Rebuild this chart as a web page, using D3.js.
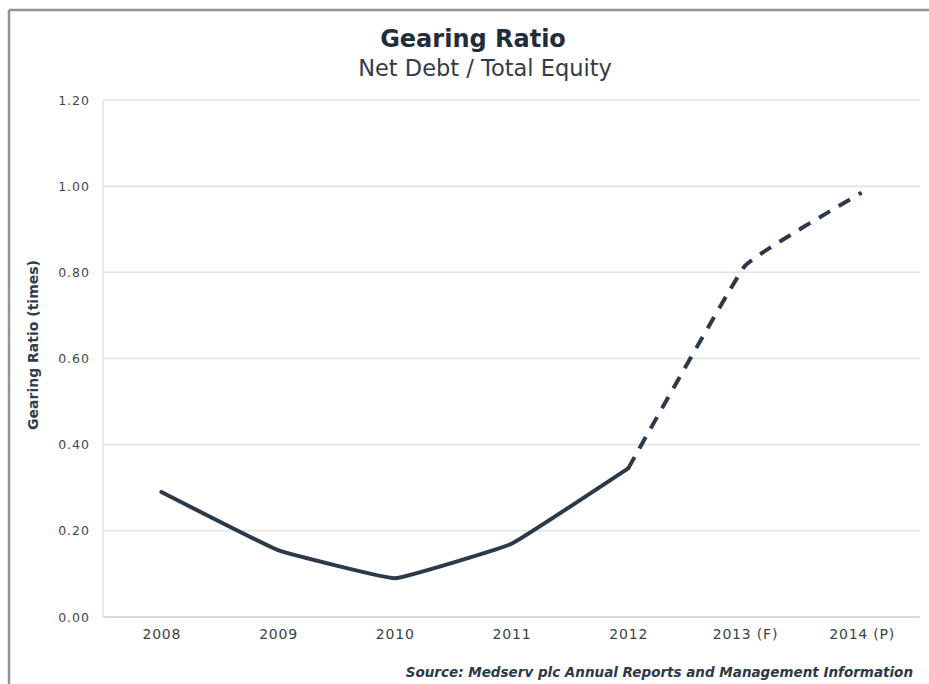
<!DOCTYPE html>
<html><head><meta charset="utf-8">
<script src="https://cdn.jsdelivr.net/npm/d3@7"></script>
<style>body{margin:0;background:#fff;}svg{display:block;}</style>
</head><body>
<svg id="c" width="929" height="684"></svg>
<script>
const categories = ["2008","2009","2010","2011","2012","2013 (F)","2014 (P)"];
const actualValues = [0.29,0.155,0.09,0.17,0.345,null,null];
const forecastValues = [null,null,null,null,0.345,0.815,0.985];
const yTicks = [0,0.2,0.4,0.6,0.8,1.0,1.2];
const title = "Gearing Ratio";
const subtitle = "Net Debt / Total Equity";
const yTitle = "Gearing Ratio (times)";
const source = "Source: Medserv plc Annual Reports and Management Information";

const svg = d3.select("#c");
const W=929,H=684;
const m={l:103,r:920,t:100,b:617};
const font="'DejaVu Sans', Verdana, sans-serif";
const dark="#2b3949";

// frame
svg.append("line").attr("x1",9).attr("x2",W).attr("y1",10).attr("y2",10).attr("stroke","#8d949c").attr("stroke-width",2.5);
svg.append("line").attr("x1",9).attr("x2",9).attr("y1",10).attr("y2",H).attr("stroke","#8d949c").attr("stroke-width",2.5);

const x=d3.scalePoint().domain(categories).range([m.l,m.r]).padding(0.5);
const y=d3.scaleLinear().domain([0,1.2]).range([m.b,m.t]);

// gridlines
svg.append("g").selectAll("line").data(yTicks).join("line")
  .attr("x1",m.l).attr("x2",m.r).attr("y1",d=>y(d)).attr("y2",d=>y(d))
  .attr("stroke",d=>d===0?"#c9ced4":"#dfe3e7").attr("stroke-width",1.5);
svg.append("line").attr("x1",m.l).attr("x2",m.l).attr("y1",m.t).attr("y2",m.b).attr("stroke","#dfe3e7").attr("stroke-width",1.5);

// y axis
const ya=svg.append("g").attr("transform",`translate(${m.l},0)`)
  .call(d3.axisLeft(y).tickValues(yTicks).tickFormat(d3.format(".2f")).tickSize(0).tickPadding(13));
ya.select(".domain").remove();
ya.selectAll("text").attr("font-family",font).attr("font-size",12.5).attr("letter-spacing",1).attr("fill","#3f4750");

// x axis
const xa=svg.append("g").attr("transform",`translate(0,${m.b})`)
  .call(d3.axisBottom(x).tickSize(0).tickPadding(12));
xa.select(".domain").remove();
xa.selectAll("text").attr("font-family",font).attr("font-size",14).attr("letter-spacing",0.8).attr("fill","#3a424c");

// lines
const line=d3.line().defined(d=>d.v!==null).x(d=>x(d.c)).y(d=>y(d.v)).curve(d3.curveCardinal.tension(0.75));
const a=categories.map((c,i)=>({c,v:actualValues[i]}));
const f=categories.map((c,i)=>({c,v:forecastValues[i]}));
svg.append("path").datum(a).attr("d",line).attr("fill","none").attr("stroke",dark).attr("stroke-width",4).attr("stroke-linejoin","round").attr("stroke-linecap","round");
svg.append("path").datum(f).attr("d",line).attr("fill","none").attr("stroke",dark).attr("stroke-width",4).attr("stroke-dasharray","13,10");

// titles
svg.append("text").attr("x",473).attr("y",47).attr("text-anchor","middle").attr("font-family",font).attr("font-weight","bold").attr("font-size",24).attr("fill","#1f2d3d").text(title);
svg.append("text").attr("x",485).attr("y",76).attr("text-anchor","middle").attr("font-family",font).attr("font-size",22.5).attr("fill","#333c46").text(subtitle);
svg.append("text").attr("transform","translate(38,345) rotate(-90)").attr("text-anchor","middle").attr("font-family",font).attr("font-weight","bold").attr("font-size",14).attr("fill","#333c46").text(yTitle);
svg.append("text").attr("x",913).attr("y",677).attr("text-anchor","end").attr("font-family",font).attr("font-weight","bold").attr("font-style","italic").attr("font-size",13.5).attr("fill","#2b3949").text(source);
</script>
</body></html>
